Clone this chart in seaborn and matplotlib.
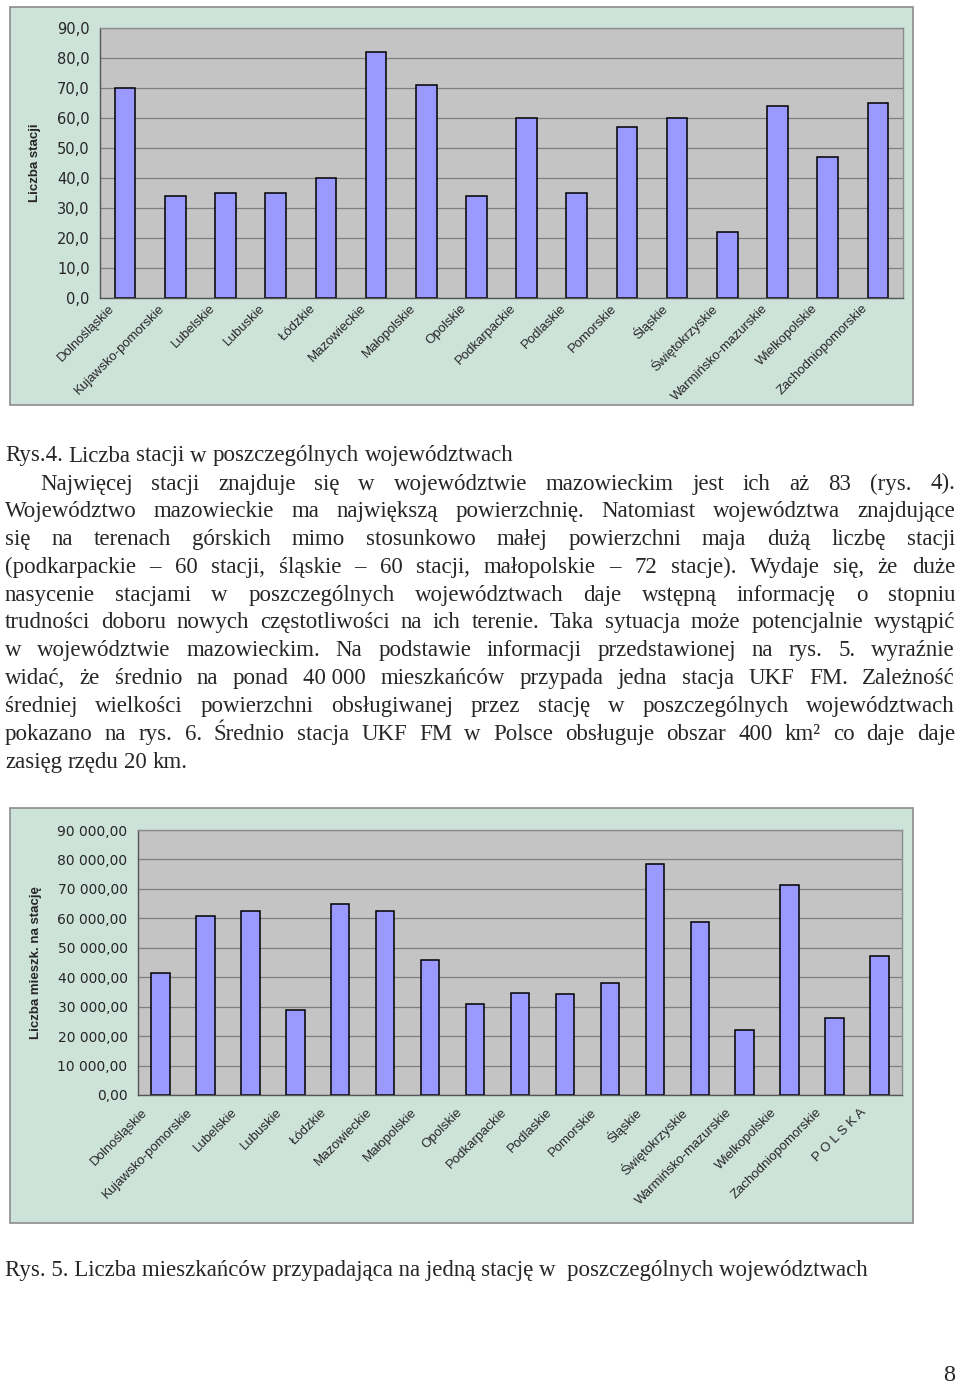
import numpy as np
import matplotlib
matplotlib.use("Agg")
import matplotlib.pyplot as plt
import matplotlib.transforms as mtransforms
import seaborn as sns
from matplotlib.patches import Rectangle
from matplotlib.ticker import FuncFormatter, MultipleLocator

# data
regions = ["Dolnośląskie", "Kujawsko-pomorskie", "Lubelskie", "Lubuskie", "Łódzkie",
           "Mazowieckie", "Małopolskie", "Opolskie", "Podkarpackie", "Podlaskie",
           "Pomorskie", "Śląskie", "Świętokrzyskie", "Warmińsko-mazurskie",
           "Wielkopolskie", "Zachodniopomorskie"]
stations = [70, 34, 35, 35, 40, 82, 71, 34, 60, 35, 57, 60, 22, 64, 47, 65]

regions_pl = regions + ["P O L S K A"]
people_per_station = [41300, 60700, 62400, 28800, 64900, 62400, 45800, 30800, 34800,
                      34400, 38200, 78600, 58600, 22100, 71200, 26000, 47100]

caption4 = "Rys.4. Liczba stacji w poszczególnych województwach"
paragraph = [
    "Najwięcej stacji znajduje się w województwie mazowieckim jest ich aż 83 (rys. 4).",
    "Województwo mazowieckie ma największą powierzchnię. Natomiast województwa znajdujące",
    "się na terenach górskich mimo stosunkowo małej powierzchni maja dużą liczbę stacji",
    "(podkarpackie – 60 stacji, śląskie – 60 stacji, małopolskie – 72 stacje). Wydaje się, że duże",
    "nasycenie stacjami w poszczególnych województwach daje wstępną informację o stopniu",
    "trudności doboru nowych częstotliwości na ich terenie. Taka sytuacja może potencjalnie wystąpić",
    "w województwie mazowieckim. Na podstawie informacji przedstawionej na rys. 5. wyraźnie",
    "widać, że średnio na ponad 40\u00a0000 mieszkańców przypada jedna stacja UKF FM. Zależność",
    "średniej wielkości powierzchni obsługiwanej przez stację w poszczególnych województwach",
    "pokazano na rys. 6. Średnio stacja UKF FM w Polsce obsługuje obszar 400 km² co daje daje",
    "zasięg rzędu 20 km.",
]
caption5 = "Rys. 5. Liczba mieszkańców przypadająca na jedną stację w  poszczególnych województwach"
page_no = "8"

W, H = 960, 1389
PANEL = "#CDE2D9"
PLOTBG = "#C4C4C4"
BAR = "#9999FF"
GRID = "#7F7F7F"
SERIF = "Liberation Serif"


def fx(px):
    return px / W


def fy(py):
    return 1 - py / H


sns.set_style("white")
plt.rcParams["font.family"] = ["DejaVu Sans"]

fig = plt.figure(figsize=(W / 100, H / 100), dpi=100)
fig.patch.set_facecolor("white")

# chart panels (behind the axes)
for x0, y0, x1, y1 in [(10, 7, 913, 405), (10, 808, 913, 1223)]:
    fig.patches.append(Rectangle((fx(x0), fy(y1)), fx(x1) - fx(x0), fy(y0) - fy(y1),
                                 transform=fig.transFigure, facecolor=PANEL,
                                 edgecolor="#8C8C8C", lw=1.2, zorder=-5))


def bar_chart(ax, cats, vals, ymax, step, fmt, ylabel, ylab_x, tick_pad, tick_size,
              lab_dx, lab_pad):
    n = len(cats)
    sns.barplot(x=cats, y=vals, ax=ax, color=BAR, edgecolor="black", linewidth=1.1,
                width=0.41, saturation=1)
    ax.set_facecolor(PLOTBG)
    ax.set_xlim(-0.5, n - 0.5)
    ax.set_ylim(0, ymax)
    ax.yaxis.set_major_locator(MultipleLocator(step))
    ax.yaxis.set_major_formatter(FuncFormatter(fmt))
    ax.yaxis.grid(True, color=GRID, lw=0.9)
    ax.set_axisbelow(True)
    for s in ax.spines.values():
        s.set_color("#8C8C8C")
        s.set_linewidth(1)
    ax.spines["bottom"].set_color("#555555")
    ax.spines["left"].set_color("#555555")

    ax.set_xticks(np.arange(-0.5, n, 1.0))
    ax.set_xticklabels([])
    ax.set_xticks(np.arange(n), minor=True)
    ax.set_xticklabels(cats, minor=True, rotation=45, ha="right", va="center",
                       rotation_mode="anchor", fontsize=9.5, family="Liberation Sans")
    ax.tick_params(axis="x", which="major", length=4, color="#555555", direction="out")
    ax.tick_params(axis="x", which="minor", length=0, pad=lab_pad)
    ax.tick_params(axis="y", length=4, color="#555555", direction="out",
                   pad=tick_pad, labelsize=tick_size)
    shift = mtransforms.ScaledTranslation(lab_dx / 100, 0, fig.dpi_scale_trans)
    for lab in ax.get_xticklabels(minor=True):
        lab.set_transform(lab.get_transform() + shift)

    ax.set_xlabel("")
    ax.set_ylabel(ylabel, fontsize=9.5, fontweight="bold", family="Liberation Sans")
    ax.yaxis.set_label_coords(ylab_x, 0.5)
    ax.yaxis.label.set_va("center")


ax1 = fig.add_axes([fx(100), fy(298), (903 - 100) / W, (298 - 28) / H])
bar_chart(ax1, regions, stations, 90, 10,
          lambda v, p: f"{v:.1f}".replace(".", ","),
          "Liczba stacji", (35 - 100) / 803, 3.5, 10.5, -12, 6)

ax2 = fig.add_axes([fx(138), fy(1095), (902 - 138) / W, (1095 - 830) / H])
bar_chart(ax2, regions_pl, people_per_station, 90000, 10000,
          lambda v, p: f"{v:,.2f}".replace(",", " ").replace(".", ","),
          "Liczba mieszk. na stację", (36 - 138) / 764, 3.5, 10, -15, 11)

# body text, justified like the page
fig.canvas.draw()
renderer = fig.canvas.get_renderer()
LEFT, RIGHT, INDENT = 5, 955, 40


def natural_width(words, fs):
    tot = 0
    for w in words:
        t = fig.text(0, 0, w, fontsize=fs, family=SERIF)
        tot += t.get_window_extent(renderer).width
        t.remove()
    return tot + (len(words) - 1) * fs * 0.25 * 100 / 72


fs = 16.5
worst = 0
for i, line in enumerate(paragraph[:-1]):
    x0 = INDENT if i == 0 else LEFT
    worst = max(worst, natural_width(line.split(" "), fs) / (RIGHT - x0))
if worst > 0.985:
    fs = fs * 0.985 / worst


def put_line(text, x0, y, justify):
    words = text.split(" ")
    texts = [fig.text(0, fy(y), w, fontsize=fs, family=SERIF, va="baseline") for w in words]
    widths = [t.get_window_extent(renderer).width for t in texts]
    gap = fs * 0.25 * 100 / 72
    if justify and len(words) > 1:
        gap = (RIGHT - x0 - sum(widths)) / (len(words) - 1)
    x = x0
    for t, w in zip(texts, widths):
        t.set_x(fx(x))
        x += w + gap


put_line(caption4, LEFT, 461.5, False)
for i, line in enumerate(paragraph):
    last = i == len(paragraph) - 1
    put_line(line, INDENT if i == 0 else LEFT, 489.5 + 27.8 * i, not last)

fig.text(fx(5), fy(1276), caption5, fontsize=fs, family=SERIF, va="baseline")
fig.text(fx(955), fy(1381), page_no, fontsize=fs + 1, family=SERIF, va="baseline", ha="right")

fig.savefig("out.png", dpi=100)
